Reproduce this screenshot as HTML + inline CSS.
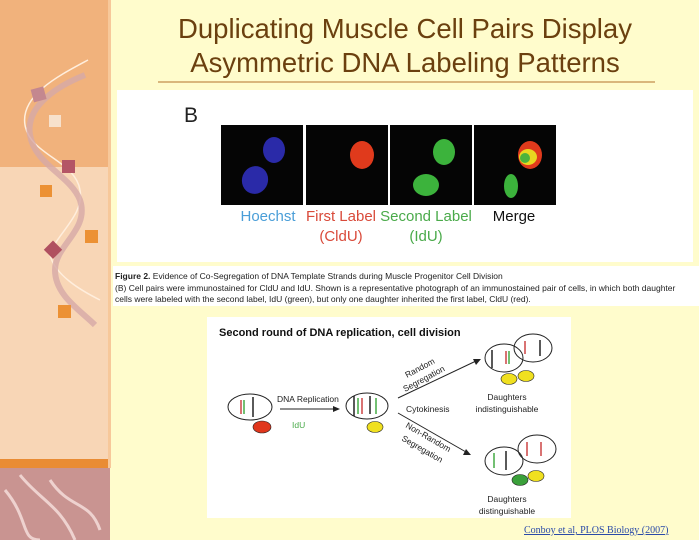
<!DOCTYPE html>
<html><head><meta charset="utf-8"><style>
html,body{margin:0;padding:0;}
body{width:699px;height:540px;overflow:hidden;background:#fffccc;}
svg{display:block;font-family:"Liberation Sans",sans-serif;}
</style></head><body>
<svg width="699" height="540" viewBox="0 0 699 540" xmlns="http://www.w3.org/2000/svg">
<rect width="699" height="540" fill="#fffccc"/>
<!-- left panel -->
<rect x="0" y="0" width="110" height="167" fill="#f1b27c"/>
<rect x="0" y="167" width="110" height="292" fill="#f8d6b6"/>
<rect x="0" y="459" width="110" height="9" fill="#e98c34"/>
<rect x="0" y="468" width="110" height="72" fill="#c99491"/>
<path d="M5 490 C30 520 20 540 40 540 M50 480 C70 510 90 500 100 530 M20 475 C40 500 60 505 75 540" stroke="#eed2cf" stroke-width="3" fill="none"/>
<rect x="108" y="0" width="3" height="468" fill="#f7c89a"/>
<path d="M88 60 C60 75 20 95 25 125 C30 155 75 160 80 190 C85 215 55 235 50 255 C55 275 80 290 100 300" stroke="#ffeedd" stroke-width="1.5" fill="none"/>
<path d="M85 75 C60 85 25 105 30 135 C35 165 70 175 80 200 C90 230 55 245 55 270 C55 295 80 310 95 325" stroke="#d6a9a8" stroke-width="6" fill="none" opacity="0.8"/>
<rect x="32" y="88" width="13" height="13" fill="#c4878f" transform="rotate(-15 38 94)"/>
<rect x="49" y="115" width="12" height="12" fill="#f7e1cc"/>
<rect x="62" y="160" width="13" height="13" fill="#b45566"/>
<rect x="40" y="185" width="12" height="12" fill="#ec9134"/>
<rect x="85" y="230" width="13" height="13" fill="#ec9134"/>
<rect x="47" y="243" width="13" height="13" fill="#b05060" transform="rotate(45 53 249)"/>
<rect x="58" y="305" width="13" height="13" fill="#ec9134"/>
<!-- title -->
<g fill="#6b400f" font-size="27.5" text-anchor="middle">
<text x="405" y="38">Duplicating Muscle Cell Pairs Display</text>
<text x="405" y="72">Asymmetric DNA Labeling Patterns</text>
</g>
<rect x="158" y="81" width="497" height="2" fill="#d9b77c"/>
<!-- figure -->
<rect x="117" y="90" width="576" height="172" fill="#ffffff"/>
<text x="184" y="122" font-size="21" fill="#222">B</text>
<rect x="221" y="125" width="82" height="80" fill="#050505"/>
<rect x="306" y="125" width="82" height="80" fill="#050505"/>
<rect x="390" y="125" width="82" height="80" fill="#050505"/>
<rect x="474" y="125" width="82" height="80" fill="#050505"/>
<ellipse cx="274" cy="150" rx="11" ry="13" fill="#2a2aa8"/>
<ellipse cx="255" cy="180" rx="13" ry="14" fill="#2a2aa8" transform="rotate(20 255 180)"/>
<ellipse cx="362" cy="155" rx="12" ry="14" fill="#e03a1c"/>
<ellipse cx="444" cy="152" rx="11" ry="13" fill="#3cb33c"/>
<ellipse cx="426" cy="185" rx="13" ry="11" fill="#3cb33c"/>
<ellipse cx="530" cy="155" rx="12" ry="14" fill="#e03a1c"/>
<ellipse cx="528" cy="157" rx="9" ry="8" fill="#e8d820"/>
<ellipse cx="525" cy="158" rx="5" ry="5" fill="#4cb33c"/>
<ellipse cx="511" cy="186" rx="7" ry="12" fill="#3cb33c"/>
<g font-size="15" text-anchor="middle">
<text x="268" y="221" fill="#4a9ed8">Hoechst</text>
<text x="341" y="221" fill="#d94a3a">First Label</text>
<text x="341" y="241" fill="#d94a3a">(CldU)</text>
<text x="426" y="221" fill="#4aaa4a">Second Label</text>
<text x="426" y="241" fill="#4aaa4a">(IdU)</text>
<text x="514" y="221" fill="#111">Merge</text>
</g>
<rect x="113" y="266" width="586" height="40" fill="#ffffff"/>
<g font-size="8.5" fill="#222">
<text x="115" y="279"><tspan font-weight="bold">Figure 2.</tspan> Evidence of Co-Segregation of DNA Template Strands during Muscle Progenitor Cell Division</text>
<text x="115" y="291">(B) Cell pairs were immunostained for CldU and IdU. Shown is a representative photograph of an immunostained pair of cells, in which both daughter</text>
<text x="115" y="302">cells were labeled with the second label, IdU (green), but only one daughter inherited the first label, CldU (red).</text>
</g>
<!-- diagram -->
<rect x="207" y="317" width="364" height="201" fill="#ffffff"/>
<text x="219" y="336" font-size="11" font-weight="bold" fill="#111">Second round of DNA replication, cell division</text>
<g fill="none" stroke="#222" stroke-width="1">
<ellipse cx="250" cy="407" rx="22" ry="13"/>
<ellipse cx="367" cy="406" rx="21" ry="13"/>
<ellipse cx="504" cy="358" rx="19" ry="14"/>
<ellipse cx="533" cy="348" rx="19" ry="14"/>
<ellipse cx="504" cy="461" rx="19" ry="14"/>
<ellipse cx="537" cy="449" rx="19" ry="14"/>
<line x1="280" y1="409" x2="336" y2="409"/>
<line x1="398" y1="398" x2="476" y2="361"/>
<line x1="398" y1="413" x2="466" y2="452"/>
</g>
<g fill="#222">
<polygon points="340,409 333,406 333,412"/>
<polygon points="481,359 473,359 476,365"/>
<polygon points="471,455 466,449 463,455"/>
</g>
<g stroke-width="1.5">
<line x1="253" y1="397" x2="253" y2="417" stroke="#222"/>
<line x1="241" y1="400" x2="241" y2="414" stroke="#c44"/>
<line x1="244" y1="400" x2="244" y2="414" stroke="#4a4"/>
<line x1="354" y1="396" x2="354" y2="416" stroke="#222"/>
<line x1="358" y1="398" x2="358" y2="414" stroke="#4a4"/>
<line x1="362" y1="398" x2="362" y2="414" stroke="#c44"/>
<line x1="370" y1="396" x2="370" y2="414" stroke="#222"/>
<line x1="376" y1="398" x2="376" y2="414" stroke="#4a4"/>
<line x1="492" y1="350" x2="492" y2="368" stroke="#222"/>
<line x1="506" y1="351" x2="506" y2="364" stroke="#c44"/>
<line x1="509" y1="351" x2="509" y2="364" stroke="#4a4"/>
<line x1="525" y1="341" x2="525" y2="354" stroke="#c44"/>
<line x1="540" y1="340" x2="540" y2="356" stroke="#222"/>
<line x1="494" y1="453" x2="494" y2="468" stroke="#4a4"/>
<line x1="506" y1="451" x2="506" y2="470" stroke="#222"/>
<line x1="527" y1="442" x2="527" y2="456" stroke="#c44"/>
<line x1="541" y1="442" x2="541" y2="456" stroke="#c44"/>
</g>
<ellipse cx="262" cy="427" rx="9" ry="6" fill="#e0361c" stroke="#222" stroke-width="0.6"/>
<ellipse cx="375" cy="427" rx="8" ry="5.5" fill="#f0e020" stroke="#222" stroke-width="0.6"/>
<ellipse cx="509" cy="379" rx="8" ry="5.5" fill="#f0e020" stroke="#222" stroke-width="0.6"/>
<ellipse cx="526" cy="376" rx="8" ry="5.5" fill="#f0e020" stroke="#222" stroke-width="0.6"/>
<ellipse cx="520" cy="480" rx="8" ry="5.5" fill="#3aa03a" stroke="#222" stroke-width="0.6"/>
<ellipse cx="536" cy="476" rx="8" ry="5.5" fill="#f0e020" stroke="#222" stroke-width="0.6"/>
<g font-size="8.5" fill="#222">
<text x="277" y="402">DNA Replication</text>
<text x="292" y="428" fill="#4aaa4a">IdU</text>
<text x="406" y="412">Cytokinesis</text>
<text x="407" y="378" transform="rotate(-28 407 378)">Random</text>
<text x="405" y="392" transform="rotate(-28 405 392)">Segregation</text>
<text x="405" y="427" transform="rotate(30 405 427)">Non-Random</text>
<text x="401" y="440" transform="rotate(30 401 440)">Segregation</text>
<g text-anchor="middle">
<text x="507" y="400">Daughters</text>
<text x="507" y="412">indistinguishable</text>
<text x="507" y="502">Daughters</text>
<text x="507" y="514">distinguishable</text>
</g>
</g>
<text x="524" y="533" font-family="Liberation Serif,serif" font-size="10" fill="#2a4aa8" text-decoration="underline">Conboy et al, PLOS Biology (2007)</text>
</svg>
</body></html>
